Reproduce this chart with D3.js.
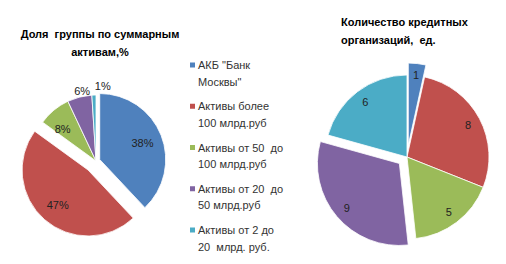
<!DOCTYPE html>
<html>
<head>
<meta charset="utf-8">
<script src="https://cdn.jsdelivr.net/npm/d3@7"></script>
<style>
  body { margin: 0; background: #fff; }
  text { font-family: "Liberation Sans", Arial, sans-serif; white-space: pre; }
</style>
</head>
<body>
<svg id="chart" width="506" height="264"></svg>
<script>
const categories = [
  ["АКБ \"Банк", "Москвы\""],
  ["Активы более", "100 млрд.руб"],
  ["Активы от 50  до", "100 млрд.руб"],
  ["Активы от 20  до", "50 млрд.руб"],
  ["Активы от 2 до", "20  млрд. руб."]
];
const shareValues = [38, 47, 8, 6, 1];
const countValues = [1, 8, 5, 9, 6];
const colors = ["#4F81BD", "#C0504D", "#9BBB59", "#8064A2", "#4BACC6"];

const svg = d3.select("#chart");

const pie = d3.pie().sort(null).value(d => d);

function drawPie(values, opts) {
  const arcs = pie(values);
  const arc = d3.arc().innerRadius(0).outerRadius(opts.r);
  const g = svg.append("g").attr("transform", `translate(${opts.cx},${opts.cy})`);

  const offset = d => {
    const o = opts.explode[d.index] || 0;
    const a = (d.startAngle + d.endAngle) / 2;
    return [Math.sin(a) * o, -Math.cos(a) * o];
  };

  g.selectAll("path")
    .data(arcs)
    .enter()
    .append("path")
    .attr("d", arc)
    .attr("transform", d => `translate(${offset(d)})`)
    .attr("fill", (d, i) => colors[i])
    .attr("stroke", "#fff")
    .attr("stroke-width", 0.8);

  g.selectAll("text.lbl")
    .data(arcs)
    .enter()
    .append("text")
    .attr("class", "lbl")
    .attr("x", d => {
      const a = (d.startAngle + d.endAngle) / 2;
      return Math.sin(a) * opts.labelR(d) + offset(d)[0] + (opts.dx[d.index] || 0);
    })
    .attr("y", d => {
      const a = (d.startAngle + d.endAngle) / 2;
      return -Math.cos(a) * opts.labelR(d) + offset(d)[1] + (opts.dy[d.index] || 0);
    })
    .attr("text-anchor", "middle")
    .attr("dominant-baseline", "central")
    .attr("font-size", 11)
    .attr("fill", "#222")
    .text(opts.fmt);
}

// left pie: share of total assets
drawPie(shareValues, {
  cx: 96, cy: 161, r: 66,
  explode: { 0: 4, 1: 12 },
  labelR: d => (d.value < 7 ? 72 : 46),
  dx: { 2: -4, 3: 4, 4: 9 },
  dy: { 2: 3, 3: 0, 4: -3 },
  fmt: d => d.value + "%"
});

// right pie: number of credit organisations
drawPie(countValues, {
  cx: 407, cy: 157, r: 82,
  explode: { 0: 12, 3: 10 },
  labelR: d => (d.index === 0 ? 71 : 69),
  dx: {}, dy: {},
  fmt: d => d.value
});

// titles
svg.append("text")
  .attr("x", 100).attr("y", 34)
  .attr("text-anchor", "middle").attr("dominant-baseline", "central")
  .attr("font-size", 11).attr("font-weight", "bold").attr("fill", "#000")
  .text("Доля  группы по суммарным");
svg.append("text")
  .attr("x", 100).attr("y", 52)
  .attr("text-anchor", "middle").attr("dominant-baseline", "central")
  .attr("font-size", 11).attr("font-weight", "bold").attr("fill", "#000")
  .text("активам,%");

svg.append("text")
  .attr("x", 341).attr("y", 22)
  .attr("dominant-baseline", "central")
  .attr("font-size", 11).attr("font-weight", "bold").attr("fill", "#000")
  .text("Количество кредитных");
svg.append("text")
  .attr("x", 341).attr("y", 40)
  .attr("dominant-baseline", "central")
  .attr("font-size", 11).attr("font-weight", "bold").attr("fill", "#000")
  .text("организаций,  ед.");

// legend
const legendY = d3.scaleLinear().domain([0, 4]).range([65, 230]);
const legend = svg.append("g");
categories.forEach((lines, i) => {
  const y = legendY(i);
  legend.append("rect")
    .attr("x", 190).attr("y", y - 2.5)
    .attr("width", 5).attr("height", 5)
    .attr("fill", colors[i]);
  lines.forEach((t, j) => {
    legend.append("text")
      .attr("x", 198).attr("y", y + j * 16.5)
      .attr("dominant-baseline", "central")
      .attr("font-size", 11).attr("fill", "#333")
      .text(t);
  });
});
</script>
</body>
</html>
